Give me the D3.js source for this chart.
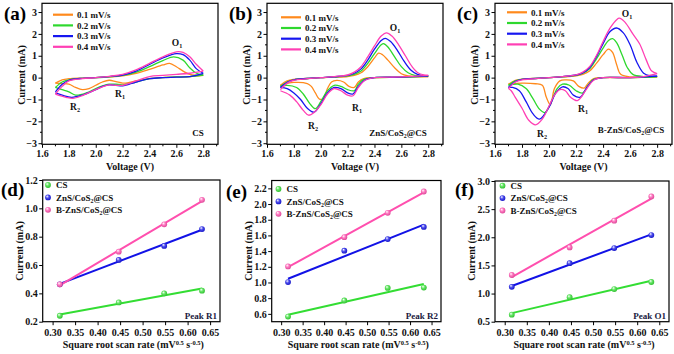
<!DOCTYPE html>
<html><head><meta charset="utf-8">
<script src="https://cdn.jsdelivr.net/npm/d3@7"></script>
<style>
body{margin:0;background:#fff;}
text{font-family:"Liberation Serif","Times New Roman",serif;font-weight:bold;}
</style></head>
<body><svg id="c" width="674" height="354"></svg>
<script>
// ---------------- DATA ----------------
const voltageTicks = [1.6, 1.8, 2.0, 2.2, 2.4, 2.6, 2.8];
const currentTicksCV = [-3, -2, -1, 0, 1, 2, 3];
const scanRateLabels = ["0.1 mV/s", "0.2 mV/s", "0.3 mV/s", "0.4 mV/s"];
const sampleNames = ["CS", "ZnS/CoS2@CS", "B-ZnS/CoS2@CS"];

// CV loops: anodic sweep 1.7 -> 2.8 then cathodic 2.8 -> 1.7  [V, mA]
const cvCS_01 = [[1.7,-0.25],[1.75,-0.1],[1.8,-0.05],[1.9,-0.02],[2.0,0.0],[2.1,0.03],[2.2,0.08],[2.3,0.2],[2.4,0.38],[2.5,0.58],[2.55,0.65],[2.6,0.5],[2.65,0.3],[2.7,0.15],[2.8,0.1],
  [2.7,0.05],[2.6,0.03],[2.5,0.0],[2.4,-0.05],[2.3,-0.15],[2.25,-0.22],[2.2,-0.25],[2.15,-0.18],[2.1,-0.12],[2.05,-0.2],[2.0,-0.35],[1.95,-0.5],[1.9,-0.55],[1.85,-0.45],[1.8,-0.3],[1.75,-0.27],[1.7,-0.25]];
const cvCS_02 = [[1.7,-0.45],[1.75,-0.2],[1.8,-0.1],[1.9,-0.03],[2.0,0.0],[2.1,0.04],[2.2,0.1],[2.3,0.25],[2.4,0.5],[2.5,0.78],[2.58,0.95],[2.65,0.8],[2.7,0.45],[2.75,0.2],[2.8,0.12],
  [2.7,0.05],[2.6,0.03],[2.5,0.0],[2.4,-0.05],[2.3,-0.2],[2.2,-0.33],[2.15,-0.3],[2.1,-0.3],[2.05,-0.38],[2.0,-0.5],[1.93,-0.7],[1.85,-0.8],[1.8,-0.65],[1.75,-0.55],[1.7,-0.45]];
const cvCS_03 = [[1.7,-0.65],[1.75,-0.3],[1.8,-0.12],[1.9,-0.03],[2.0,0.0],[2.1,0.05],[2.2,0.12],[2.3,0.3],[2.4,0.6],[2.5,0.9],[2.6,1.1],[2.65,1.05],[2.7,0.8],[2.75,0.4],[2.8,0.2],
  [2.7,0.05],[2.6,0.02],[2.5,0.0],[2.4,-0.05],[2.3,-0.2],[2.2,-0.38],[2.15,-0.35],[2.1,-0.33],[2.05,-0.4],[2.0,-0.55],[1.9,-0.8],[1.82,-0.9],[1.75,-0.8],[1.7,-0.7]];
const cvCS_04 = [[1.7,-0.75],[1.75,-0.4],[1.8,-0.15],[1.9,-0.05],[2.0,0.0],[2.1,0.06],[2.2,0.15],[2.3,0.35],[2.4,0.65],[2.5,0.95],[2.6,1.18],[2.65,1.15],[2.7,0.95],[2.75,0.6],[2.8,0.3],
  [2.7,0.2],[2.6,0.15],[2.5,0.1],[2.4,0.05],[2.3,-0.15],[2.2,-0.35],[2.15,-0.35],[2.1,-0.33],[2.05,-0.42],[2.0,-0.55],[1.9,-0.82],[1.83,-0.95],[1.78,-0.9],[1.7,-0.75]];

const cvZC_01 = [[1.7,-0.35],[1.75,-0.15],[1.8,-0.08],[1.9,-0.04],[2.0,0.0],[2.1,0.02],[2.2,0.05],[2.25,0.1],[2.3,0.22],[2.35,0.5],[2.4,0.9],[2.43,1.12],[2.46,1.05],[2.5,0.8],[2.55,0.45],[2.6,0.18],[2.65,0.08],[2.7,0.05],[2.8,0.05],
  [2.6,0.02],[2.4,0.0],[2.32,-0.05],[2.28,-0.2],[2.25,-0.45],[2.21,-0.4],[2.17,-0.2],[2.12,-0.13],[2.08,-0.2],[2.05,-0.5],[2.02,-0.95],[1.99,-0.98],[1.96,-0.7],[1.93,-0.4],[1.9,-0.27],[1.8,-0.22],[1.7,-0.35]];
const cvZC_02 = [[1.7,-0.4],[1.75,-0.2],[1.8,-0.1],[1.9,-0.04],[2.0,0.0],[2.1,0.03],[2.2,0.08],[2.25,0.15],[2.3,0.3],[2.35,0.65],[2.4,1.1],[2.45,1.5],[2.47,1.55],[2.5,1.4],[2.55,0.95],[2.6,0.5],[2.65,0.22],[2.7,0.1],[2.8,0.07],
  [2.6,0.02],[2.4,0.0],[2.32,-0.08],[2.28,-0.3],[2.25,-0.6],[2.2,-0.55],[2.15,-0.4],[2.1,-0.35],[2.05,-0.6],[2.0,-1.1],[1.96,-1.42],[1.92,-1.2],[1.87,-0.75],[1.82,-0.45],[1.75,-0.35],[1.7,-0.4]];
const cvZC_03 = [[1.7,-0.45],[1.75,-0.22],[1.8,-0.1],[1.9,-0.04],[2.0,0.0],[2.1,0.04],[2.2,0.1],[2.25,0.2],[2.3,0.4],[2.35,0.8],[2.4,1.3],[2.45,1.7],[2.48,1.8],[2.52,1.65],[2.57,1.25],[2.62,0.75],[2.67,0.35],[2.72,0.15],[2.8,0.08],
  [2.6,0.02],[2.4,0.0],[2.33,-0.1],[2.28,-0.4],[2.24,-0.75],[2.2,-0.7],[2.15,-0.5],[2.1,-0.45],[2.05,-0.7],[2.0,-1.2],[1.95,-1.58],[1.9,-1.4],[1.85,-1.0],[1.8,-0.7],[1.75,-0.5],[1.7,-0.45]];
const cvZC_04 = [[1.7,-0.55],[1.75,-0.25],[1.8,-0.12],[1.9,-0.05],[2.0,0.0],[2.1,0.05],[2.2,0.12],[2.25,0.25],[2.3,0.5],[2.35,0.95],[2.4,1.45],[2.45,1.9],[2.49,2.05],[2.53,1.9],[2.58,1.5],[2.63,1.0],[2.68,0.5],[2.73,0.2],[2.8,0.1],
  [2.6,0.03],[2.4,0.0],[2.33,-0.12],[2.28,-0.45],[2.24,-0.83],[2.2,-0.8],[2.15,-0.6],[2.1,-0.5],[2.05,-0.75],[2.0,-1.25],[1.95,-1.6],[1.91,-1.72],[1.87,-1.5],[1.82,-1.1],[1.77,-0.8],[1.7,-0.6]];

const cvBZC_01 = [[1.7,-0.3],[1.75,-0.12],[1.8,-0.07],[1.9,-0.03],[2.0,0.0],[2.1,0.03],[2.2,0.08],[2.25,0.15],[2.3,0.3],[2.35,0.65],[2.4,1.05],[2.44,1.3],[2.47,1.15],[2.5,0.6],[2.53,0.15],[2.6,0.03],[2.8,0.03],
  [2.6,0.0],[2.4,0.0],[2.33,-0.05],[2.29,-0.25],[2.26,-0.48],[2.22,-0.4],[2.18,-0.15],[2.12,-0.1],[2.08,-0.15],[2.04,-0.5],[2.01,-1.24],[1.98,-0.9],[1.95,-0.35],[1.9,-0.28],[1.8,-0.25],[1.7,-0.3]];
const cvBZC_02 = [[1.7,-0.35],[1.75,-0.15],[1.8,-0.08],[1.9,-0.04],[2.0,0.0],[2.1,0.04],[2.2,0.1],[2.25,0.2],[2.3,0.4],[2.35,0.85],[2.4,1.35],[2.44,1.7],[2.47,1.78],[2.5,1.6],[2.54,1.05],[2.58,0.45],[2.62,0.15],[2.7,0.05],[2.8,0.05],
  [2.6,0.0],[2.4,0.0],[2.33,-0.08],[2.29,-0.35],[2.25,-0.7],[2.2,-0.6],[2.15,-0.35],[2.1,-0.3],[2.06,-0.5],[2.02,-1.05],[1.97,-1.6],[1.93,-1.45],[1.88,-0.95],[1.83,-0.5],[1.77,-0.3],[1.7,-0.35]];
const cvBZC_03 = [[1.7,-0.45],[1.75,-0.18],[1.8,-0.08],[1.9,-0.04],[2.0,0.0],[2.1,0.05],[2.2,0.12],[2.25,0.22],[2.3,0.45],[2.35,0.95],[2.4,1.55],[2.45,2.1],[2.5,2.27],[2.55,2.05],[2.6,1.5],[2.65,0.7],[2.7,0.2],[2.75,0.08],[2.8,0.07],
  [2.6,0.0],[2.4,0.0],[2.33,-0.1],[2.28,-0.45],[2.23,-0.9],[2.18,-0.8],[2.14,-0.5],[2.1,-0.42],[2.05,-0.7],[2.0,-1.35],[1.93,-1.9],[1.88,-1.65],[1.83,-1.1],[1.78,-0.6],[1.73,-0.45],[1.7,-0.45]];
const cvBZC_04 = [[1.7,-0.5],[1.75,-0.2],[1.8,-0.1],[1.9,-0.05],[2.0,0.0],[2.1,0.05],[2.2,0.13],[2.25,0.25],[2.3,0.5],[2.35,1.0],[2.4,1.65],[2.45,2.25],[2.5,2.65],[2.52,2.72],[2.56,2.55],[2.62,2.0],[2.67,1.55],[2.72,0.8],[2.76,0.3],[2.8,0.18],
  [2.7,0.05],[2.6,0.0],[2.4,0.0],[2.33,-0.12],[2.28,-0.5],[2.21,-1.05],[2.16,-0.9],[2.12,-0.6],[2.08,-0.55],[2.04,-0.8],[2.0,-1.3],[1.95,-1.9],[1.9,-2.16],[1.85,-1.95],[1.8,-1.4],[1.75,-0.9],[1.72,-0.6],[1.7,-0.5]];

// Peak current vs square root of scan rate
const sqrtScanRate = [0.316, 0.447, 0.548, 0.632];
const sqrtRateTicks = [0.30, 0.35, 0.40, 0.45, 0.50, 0.55, 0.60, 0.65];
const peakR1_CS   = [0.242, 0.336, 0.400, 0.419];
const peakR1_ZC   = [0.464, 0.636, 0.735, 0.854];
const peakR1_BZC  = [0.464, 0.694, 0.887, 1.060];
const peakR2_CS   = [0.565, 0.770, 0.930, 0.935];
const peakR2_ZC   = [1.005, 1.405, 1.553, 1.708];
const peakR2_BZC  = [1.205, 1.577, 1.888, 2.160];
const peakO1_CS   = [0.625, 0.935, 1.080, 1.205];
const peakO1_ZC   = [1.120, 1.540, 1.808, 2.040];
const peakO1_BZC  = [1.330, 1.820, 2.295, 2.725];
const peakR1Ticks = [0.2, 0.4, 0.6, 0.8, 1.0, 1.2];
const peakR2Ticks = [0.6, 0.8, 1.0, 1.2, 1.4, 1.6, 1.8, 2.0, 2.2];
const peakO1Ticks = [0.5, 1.0, 1.5, 2.0, 2.5, 3.0];

// ---------------- STYLE ----------------
const cvColors = ["#ff8a1c", "#2ed82e", "#1616f0", "#ff3fb4"];
const fitColors = ["#33dd33", "#1212e6", "#ff4fae"];
const FS = 10;

const svg = d3.select("#c");
const defs = svg.append("defs");
fitColors.forEach((c, i) => {
  const g = defs.append("radialGradient").attr("id", "ball" + i)
    .attr("cx", "45%").attr("cy", "45%").attr("r", "60%").attr("fx", "35%").attr("fy", "30%");
  g.append("stop").attr("offset", "0%").attr("stop-color", "#ffffff");
  g.append("stop").attr("offset", "45%").attr("stop-color", d3.interpolateRgb(c, "#fff")(0.25));
  g.append("stop").attr("offset", "100%").attr("stop-color", d3.interpolateRgb(c, "#000")(0.15));
});

function rich(sel, parts, size) {
  parts.forEach(p => {
    const t = sel.append("tspan").text(p[0]);
    if (p[1] === "sub") t.attr("baseline-shift", "-28%").attr("font-size", size * 0.65);
    if (p[1] === "sup") t.attr("baseline-shift", "38%").attr("font-size", size * 0.65);
  });
}
function nameParts(n) {
  const i = n.indexOf("CoS2");
  if (i < 0) return [[n, ""]];
  return [[n.slice(0, i + 3), ""], ["2", "sub"], [n.slice(i + 4), ""]];
}

function frameAxes(g, x, y, xt, yt, xf, yf, minorX, minorY) {
  const [x0, x1] = x.range(), [y0, y1] = y.range();
  if (minorX) g.append("g").selectAll("line").data(minorX).join("line")
      .attr("x1", d => x(d)).attr("x2", d => x(d)).attr("y1", y0).attr("y2", y0 + 2)
      .attr("stroke", "#000").attr("stroke-width", 1);
  if (minorY) g.append("g").selectAll("line").data(minorY).join("line")
      .attr("y1", d => y(d)).attr("y2", d => y(d)).attr("x1", x0).attr("x2", x0 - 2)
      .attr("stroke", "#000").attr("stroke-width", 1);
  const ax = g.append("g").attr("class", "xax").attr("transform", `translate(0,${y0})`)
    .call(d3.axisBottom(x).tickValues(xt).tickFormat(xf).tickSize(3.5).tickPadding(2));
  const ay = g.append("g").attr("transform", `translate(${x0},0)`)
    .call(d3.axisLeft(y).tickValues(yt).tickFormat(yf).tickSize(3.5).tickPadding(1.5));
  [ax, ay].forEach(a => {
    a.select(".domain").remove();
    a.selectAll("line").attr("stroke", "#000").attr("stroke-width", 1);
    a.selectAll("text").attr("font-size", FS).attr("fill", "#111")
      .style("font-family", '"Liberation Serif",serif').style("font-weight", "bold");
  });
  g.append("rect").attr("x", x0).attr("y", y1).attr("width", x1 - x0).attr("height", y0 - y1)
    .attr("fill", "none").attr("stroke", "#000").attr("stroke-width", 1.2);
}

function panelLabel(txt, px, py) {
  svg.append("text").attr("x", px).attr("y", py).attr("font-size", 19).attr("fill", "#000").text(txt);
}

// ---------------- CV PANELS ----------------
const cvPanels = [
  {loops: [cvCS_01, cvCS_02, cvCS_03, cvCS_04], left: 42, right: 218, label: "(a)", lx: 4, name: sampleNames[0],
   nx: 198, ny: 136, leg: {x: 53, y: 14.7}, O1: [177, 46], R1: [120, 97], R2: [75, 110]},
  {loops: [cvZC_01, cvZC_02, cvZC_03, cvZC_04], left: 267, right: 443, label: "(b)", lx: 229, name: sampleNames[1],
   nx: 398, ny: 136, leg: {x: 281, y: 17.3}, O1: [395, 31], R1: [357, 111], R2: [313, 129]},
  {loops: [cvBZC_01, cvBZC_02, cvBZC_03, cvBZC_04], left: 495, right: 672, label: "(c)", lx: 457, name: sampleNames[2],
   nx: 631, ny: 133, leg: {x: 507, y: 12.3}, O1: [627, 17], R1: [583, 112], R2: [542, 137]}
];

cvPanels.forEach(p => {
  const g = svg.append("g");
  const x = d3.scaleLinear().domain([1.6, 2.91]).range([p.left, p.right]);
  const y = d3.scaleLinear().domain([-3.05, 3.4]).range([144.3, 3.3]);
  const line = d3.line().x(d => x(d[0])).y(d => y(d[1])).curve(d3.curveCatmullRom.alpha(0.5));
  p.loops.forEach((loop, i) => {
    const k = d3.maxIndex(loop, d => d[0]);
    [loop.slice(0, k + 1), loop.slice(k)].forEach(seg => {
      g.append("path").attr("d", line(seg)).attr("fill", "none")
        .attr("stroke", cvColors[i]).attr("stroke-width", 1.3).attr("stroke-linejoin", "round");
    });
  });
  frameAxes(g, x, y, voltageTicks, currentTicksCV, d3.format(".1f"), d3.format("d"),
    [1.7, 1.9, 2.1, 2.3, 2.5, 2.7, 2.9], [-2.5, -1.5, -0.5, 0.5, 1.5, 2.5]);
  scanRateLabels.forEach((s, i) => {
    const yy = p.leg.y + i * 10.7;
    g.append("line").attr("x1", p.leg.x).attr("x2", p.leg.x + 20).attr("y1", yy).attr("y2", yy)
      .attr("stroke", cvColors[i]).attr("stroke-width", 2.2);
    g.append("text").attr("x", p.leg.x + 24).attr("y", yy + 3.2).attr("font-size", 9).attr("fill", "#111").text(s);
  });
  [["O", p.O1], ["R", p.R1, "1"], ["R", p.R2, "2"]].forEach((a, j) => {
    const t = g.append("text").attr("x", a[1][0]).attr("y", a[1][1]).attr("text-anchor", "middle")
      .attr("font-size", 9.5).attr("fill", "#111");
    rich(t, [[a[0], ""], [j === 2 ? "2" : "1", "sub"]], 9.5);
  });
  const nt = g.append("text").attr("x", p.nx).attr("y", p.ny).attr("text-anchor", "middle")
    .attr("font-size", 9).attr("fill", "#111");
  rich(nt, nameParts(p.name), 9);
  g.append("text").attr("x", (p.left + p.right) / 2).attr("y", 170).attr("text-anchor", "middle")
    .attr("font-size", FS).attr("fill", "#111").text("Voltage (V)");
  g.append("text").attr("transform", `translate(${p.left - 17},75) rotate(-90)`).attr("text-anchor", "middle")
    .attr("font-size", FS).attr("fill", "#111").text("Current (mA)");
  panelLabel(p.label, p.lx, 20);
});

// ---------------- PEAK CURRENT PANELS ----------------
const fitPanels = [
  {series: [peakR1_CS, peakR1_ZC, peakR1_BZC], ticks: peakR1Ticks, dom: [0.2, 1.2], top: 180, left: 42.7, right: 220,
   label: "(d)", lx: 1, ly: 196, peak: "Peak R1", leg: {x: 48, y: 185}},
  {series: [peakR2_CS, peakR2_ZC, peakR2_BZC], ticks: peakR2Ticks, dom: [0.5, 2.3], top: 180.5, left: 271.7, right: 441,
   label: "(e)", lx: 226, ly: 198, peak: "Peak R2", leg: {x: 278.5, y: 189}},
  {series: [peakO1_CS, peakO1_ZC, peakO1_BZC], ticks: peakO1Ticks, dom: [0.5, 3.0], top: 181, left: 495, right: 669,
   label: "(f)", lx: 455, ly: 196, peak: "Peak O1", leg: {x: 502.5, y: 185.7}}
];

fitPanels.forEach(p => {
  const g = svg.append("g");
  const x = d3.scaleLinear().domain([0.278, 0.672]).range([p.left, p.right]);
  const y = d3.scaleLinear().domain(p.dom).range([321.7, p.top]);
  p.series.forEach((vals, i) => {
    const mx = d3.mean(sqrtScanRate), my = d3.mean(vals);
    const slope = d3.sum(sqrtScanRate, (v, k) => (v - mx) * (vals[k] - my)) / d3.sum(sqrtScanRate, v => (v - mx) ** 2);
    const ends = [sqrtScanRate[0], sqrtScanRate[3]].map(v => [v, my + slope * (v - mx)]);
    g.append("line").attr("x1", x(ends[0][0])).attr("y1", y(ends[0][1]))
      .attr("x2", x(ends[1][0])).attr("y2", y(ends[1][1]))
      .attr("stroke", fitColors[i]).attr("stroke-width", 2);
  });
  p.series.forEach((vals, i) => {
    g.append("g").selectAll("circle").data(vals).join("circle")
      .attr("cx", (d, k) => x(sqrtScanRate[k])).attr("cy", d => y(d)).attr("r", 2.9)
      .attr("fill", `url(#ball${i})`);
  });
  frameAxes(g, x, y, sqrtRateTicks, p.ticks, d3.format(".2f"), d3.format(".1f"), null, null);
  g.selectAll(".xax .tick text").attr("dy", "0.9em");
  sampleNames.forEach((s, i) => {
    const yy = p.leg.y + i * 12.4;
    g.append("circle").attr("cx", p.leg.x).attr("cy", yy).attr("r", 2.9).attr("fill", `url(#ball${i})`);
    const t = g.append("text").attr("x", p.leg.x + 8).attr("y", yy + 3.2).attr("font-size", 9).attr("fill", "#111");
    rich(t, nameParts(s), 9);
  });
  g.append("text").attr("x", p.right - 3).attr("y", 318.5).attr("text-anchor", "end")
    .attr("font-size", 9).attr("fill", "#1a1a40").text(p.peak);
  const xt = g.append("text").attr("x", (p.left + p.right) / 2 + 2).attr("y", 347.5).attr("text-anchor", "middle")
    .attr("font-size", FS).attr("fill", "#111");
  rich(xt, [["Square root scan rate  (mV", ""], ["0.5", "sup"], [" s", ""], ["-0.5", "sup"], [")", ""]], FS);
  g.append("text").attr("transform", `translate(${p.left - 20},251) rotate(-90)`).attr("text-anchor", "middle")
    .attr("font-size", FS).attr("fill", "#111").text("Current (mA)");
  panelLabel(p.label, p.lx, p.ly);
});
</script></body></html>
